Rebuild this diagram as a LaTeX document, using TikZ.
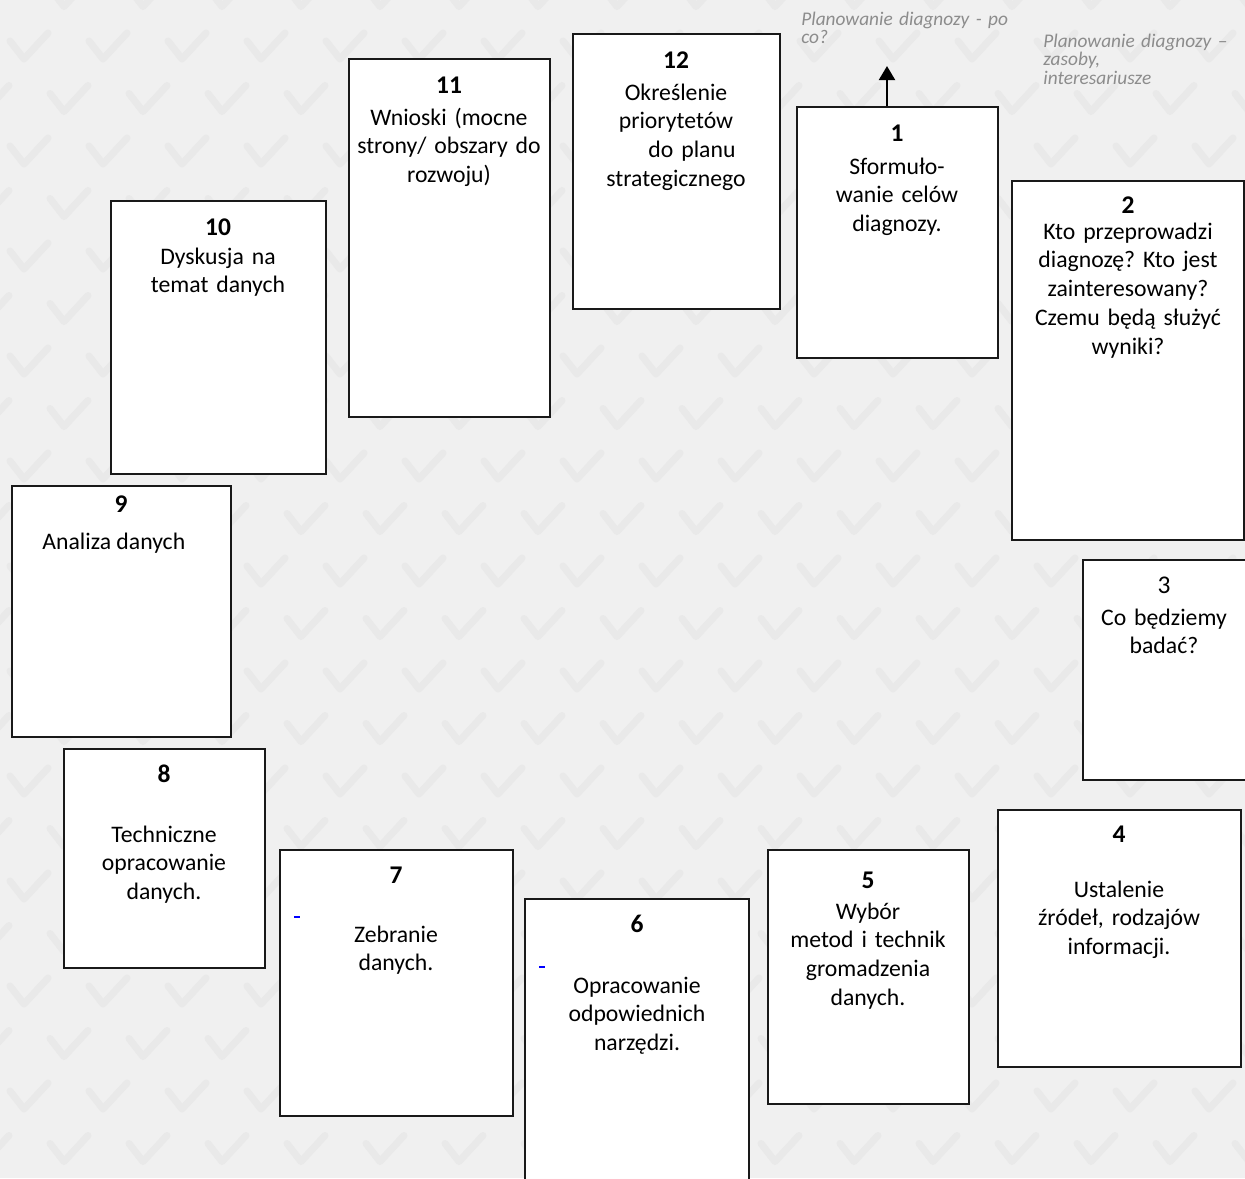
\documentclass[tikz,border=0pt]{standalone}
\usepackage{fontspec}
\setmainfont{Carlito}
\usetikzlibrary{arrows.meta,fit}
\definecolor{paper}{HTML}{F0F0F0}
\definecolor{checkgray}{HTML}{E9E9E9}
\definecolor{notegray}{HTML}{8C8C8C}
\frenchspacing

\begin{document}
\begin{tikzpicture}[x=0.02cm, y=-0.02cm,
  checkmark/.style={draw=checkgray, line width=4pt, line cap=round, line join=round},
  card/.style={draw=black!90, line width=1pt, fill=white, inner sep=0pt},
  num/.style={font=\fontsize{14.5}{17}\selectfont\bfseries, anchor=base, inner sep=0pt},
  body/.style={font=\fontsize{13.5}{16.4}\selectfont, align=center, text width=5cm, anchor=base, inner sep=0pt},
  note/.style={font=\fontsize{11}{10.8}\selectfont\itshape, text=notegray, align=left, text width=4.6cm, anchor=base west, inner sep=0pt}]
  \useasboundingbox (0,0) rectangle (1245,1178);
  \clip (0,0) rectangle (1245,1178);
  \fill[paper] (0,0) rectangle (1245,1178);

  % background pattern
  \foreach \r in {-1,...,22}{
    \foreach \c in {-1,...,16}{
      \pgfmathsetmacro\cx{28+79*\c+40*mod(\r+2,2)}
      \pgfmathsetmacro\cy{47+52.5*\r}
      \draw[checkmark] (\cx-18,\cy-6) -- (\cx-4,\cy+12) -- (\cx+20,\cy-14);
    }
  }

  % cards
  \node[card, fit={(797,107) (998,358)}] (b1) {};
  \node[card, fit={(1012,181) (1244,540)}] (b2) {};
  \node[card, fit={(1083,560) (1248,780)}] (b3) {};
  \node[card, fit={(998,810) (1241,1067)}] (b4) {};
  \node[card, fit={(768,850) (969,1104)}] (b5) {};
  \node[card, fit={(525,899) (749,1190)}] (b6) {};
  \node[card, fit={(280,850) (513,1116)}] (b7) {};
  \node[card, fit={(64,749) (265,968)}] (b8) {};
  \node[card, fit={(12,486) (231,737)}] (b9) {};
  \node[card, fit={(111,201) (326,474)}] (b10) {};
  \node[card, fit={(349,59) (550,417)}] (b11) {};
  \node[card, fit={(573,34) (780,309)}] (b12) {};

  \node[num] (n1) at (897,141) {1};
  \node[body] (t1) at (897,174) {Sformuło-\\wanie celów\\diagnozy.};
  \node[num] (n2) at (1128,213) {2};
  \node[body] (t2) at (1128,239) {Kto przeprowadzi\\diagnozę? Kto jest\\zainteresowany?\\Czemu będą służyć\\wyniki?};
  \node[num, font=\fontsize{14.5}{17}\selectfont] (n3) at (1164,593) {3};
  \node[body] (t3) at (1164,625) {Co będziemy\\badać?};
  \node[num] (n4) at (1119,842) {4};
  \node[body] (t4) at (1119,897) {Ustalenie\\źródeł, rodzajów\\informacji.};
  \node[num] (n5) at (868,888) {5};
  \node[body] (t5) at (868,919) {Wybór\\metod i technik\\gromadzenia\\danych.};
  \node[num] (n6) at (637,932) {6};
  \node[body] (t6) at (637,993) {Opracowanie\\odpowiednich\\narzędzi.};
  \node[num] (n7) at (396,883) {7};
  \node[body] (t7) at (396,942) {Zebranie\\danych.};
  \node[num] (n8) at (164,782) {8};
  \node[body] (t8) at (164,842) {Techniczne\\opracowanie\\danych.};
  \node[num] (n9) at (121,512) {9};
  \node[num, font=\fontsize{13.5}{16.4}\selectfont, anchor=base west] (t9) at (42,549) {Analiza danych};
  \node[num] (n10) at (218,235) {10};
  \node[body] (t10) at (218,264) {Dyskusja na\\temat danych};
  \node[num] (n11) at (449,93) {11};
  \node[body] (t11) at (449,125) {Wnioski (mocne\\strony/ obszary do\\rozwoju)};
  \node[num] (n12) at (676,68) {12};
  \node[body] (t12) at (676,100) {Określenie\\priorytetów\\\hspace*{0.64cm}do planu\\strategicznego};

  % stray marks
  \draw[blue, line width=1.2pt] (294,917) -- (300,917);
  \draw[blue, line width=1.2pt] (539,967) -- (545,967);

  \node[note] (p1) at (801,25) {Planowanie diagnozy - po\\co?};
  \node[note] (p2) at (1043,47) {Planowanie diagnozy –\\zasoby,\\interesariusze};

  \coordinate (aim) at (887,66);
  \draw[-{Triangle[length=8pt,width=9pt]}, line width=1.6pt] (aim |- b1.north) -- (aim);
\end{tikzpicture}
\end{document}
